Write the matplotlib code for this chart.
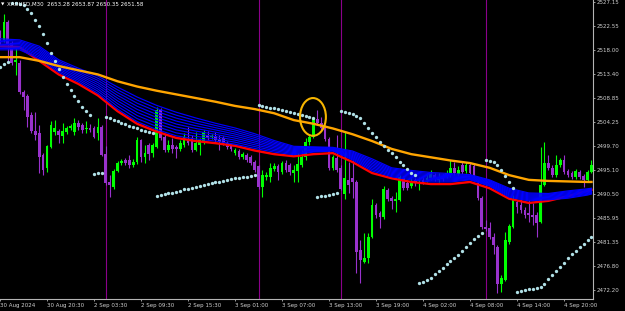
import matplotlib
matplotlib.use('Agg')
import matplotlib.pyplot as plt
from matplotlib.patches import Ellipse
import numpy as np

# XAUUSD M30 candles, one entry per bar (bar 0 = 30 Aug 2024)
opens = [2521.2, 2519.9, 2523.3, 2519.3, 2515.7, 2515.5, 2510.0, 2509.2, 2505.6, 2502.5,
         2502.1, 2497.9, 2495.5, 2499.5, 2502.3, 2502.5, 2501.6, 2502.3, 2503.1, 2502.3,
         2504.0, 2503.7, 2502.9, 2503.1, 2503.1, 2502.1, 2503.3, 2498.1, 2492.8, 2491.8,
         2494.9, 2496.4, 2497.0, 2497.0, 2496.0, 2496.6, 2500.8, 2497.6, 2499.8, 2498.3,
         2499.5, 2506.5, 2501.4, 2498.9, 2499.8, 2499.5, 2499.1, 2499.8, 2500.8, 2501.2,
         2498.9, 2499.8, 2500.4, 2501.8, 2501.3, 2501.6, 2501.0, 2501.2, 2500.2, 2499.7,
         2498.3, 2498.7, 2497.6, 2497.9, 2497.6, 2496.6, 2495.8, 2491.8, 2493.7, 2493.7,
         2495.3, 2495.8, 2494.7, 2496.4, 2496.0, 2494.5, 2494.9, 2496.0, 2497.6, 2500.4,
         2501.4, 2504.8, 2504.0, 2503.1, 2501.0, 2495.5, 2497.4, 2495.5, 2490.5, 2493.2,
         2493.6, 2492.8, 2479.8, 2477.5, 2478.3, 2482.3, 2488.4, 2486.9, 2486.1, 2491.3,
         2489.7, 2489.2, 2489.4, 2493.6, 2492.6, 2492.0, 2493.2, 2493.0, 2493.2, 2493.2,
         2493.6, 2494.1, 2493.2, 2493.9, 2493.9, 2494.1, 2495.5, 2494.3, 2496.0, 2494.9,
         2496.0, 2495.8, 2492.6, 2489.7, 2484.2, 2484.0, 2482.3, 2480.4, 2473.3, 2474.1,
         2481.4, 2484.2, 2489.0, 2488.4, 2487.5, 2486.9, 2486.5, 2486.5, 2485.2, 2492.2,
         2496.4, 2495.5, 2494.1, 2496.0, 2497.0, 2494.9, 2494.5, 2493.7, 2494.7, 2493.9,
         2493.2, 2494.7]
highs = [2521.8, 2524.8, 2523.7, 2519.7, 2518.5, 2516.1, 2510.3, 2509.6, 2506.1, 2506.1,
         2503.7, 2498.3, 2499.8, 2504.4, 2504.6, 2502.9, 2504.0, 2503.5, 2503.9, 2505.0,
         2504.6, 2504.0, 2504.4, 2503.9, 2503.5, 2505.0, 2503.7, 2499.7, 2494.1, 2495.3,
         2496.8, 2497.2, 2497.4, 2497.9, 2497.2, 2501.4, 2501.0, 2499.8, 2500.2, 2500.2,
         2507.1, 2506.9, 2502.0, 2500.8, 2501.2, 2499.8, 2500.8, 2502.1, 2503.3, 2501.8,
         2502.3, 2501.2, 2502.7, 2502.5, 2502.0, 2502.3, 2501.8, 2501.6, 2500.6, 2500.0,
         2499.3, 2499.1, 2498.5, 2498.3, 2497.9, 2497.0, 2496.0, 2495.1, 2494.7, 2496.4,
         2496.4, 2496.2, 2496.8, 2497.0, 2496.4, 2496.0, 2498.3, 2498.9, 2501.2, 2501.8,
         2505.2, 2506.5, 2505.2, 2503.7, 2501.4, 2497.9, 2501.8, 2496.0, 2502.3, 2496.6,
         2497.0, 2493.2, 2481.7, 2483.1, 2483.1, 2489.6, 2488.8, 2487.3, 2492.0, 2491.6,
         2490.1, 2490.9, 2494.1, 2493.9, 2493.0, 2493.6, 2493.6, 2493.7, 2493.9, 2494.5,
         2495.1, 2494.5, 2494.5, 2494.3, 2495.1, 2497.0, 2496.6, 2495.8, 2496.6, 2496.6,
         2496.4, 2496.2, 2493.2, 2490.1, 2485.5, 2485.2, 2483.1, 2480.8, 2475.1, 2483.3,
         2484.8, 2490.3, 2489.4, 2489.7, 2488.0, 2489.4, 2488.8, 2487.1, 2499.5, 2500.4,
         2497.9, 2496.0, 2497.9, 2497.4, 2497.9, 2495.3, 2494.9, 2495.3, 2495.1, 2494.3,
         2495.1, 2497.0]
lows = [2518.9, 2519.5, 2515.5, 2515.1, 2513.2, 2509.6, 2506.5, 2503.3, 2502.1, 2500.8,
        2494.5, 2494.1, 2494.7, 2499.3, 2501.8, 2500.2, 2500.2, 2502.0, 2502.7, 2501.8,
        2502.7, 2502.1, 2502.1, 2502.3, 2501.2, 2500.8, 2497.8, 2492.2, 2489.9, 2491.5,
        2494.7, 2496.0, 2496.0, 2495.5, 2495.7, 2496.2, 2496.6, 2496.4, 2497.0, 2497.6,
        2499.3, 2500.8, 2498.5, 2498.5, 2498.3, 2497.4, 2498.7, 2499.5, 2499.8, 2498.5,
        2498.7, 2497.9, 2500.0, 2500.8, 2501.0, 2500.4, 2498.9, 2499.8, 2499.1, 2498.7,
        2497.9, 2497.2, 2497.2, 2496.6, 2496.0, 2494.7, 2491.5, 2489.9, 2493.2, 2492.8,
        2494.9, 2493.2, 2494.3, 2494.7, 2494.1, 2492.8, 2492.8, 2495.7, 2497.0, 2499.8,
        2501.2, 2503.7, 2502.7, 2500.6, 2495.1, 2495.1, 2494.7, 2491.3, 2489.5, 2490.7,
        2489.7, 2475.4, 2473.5, 2477.3, 2477.3, 2482.1, 2485.9, 2484.0, 2485.7, 2489.2,
        2487.6, 2487.1, 2489.2, 2491.3, 2491.3, 2491.6, 2492.0, 2491.3, 2492.4, 2492.8,
        2493.2, 2493.0, 2492.8, 2493.0, 2493.6, 2493.7, 2494.1, 2493.9, 2494.3, 2494.5,
        2494.1, 2493.7, 2489.4, 2483.8, 2483.4, 2481.9, 2479.1, 2471.6, 2471.8, 2473.9,
        2481.0, 2484.0, 2486.9, 2486.9, 2485.9, 2485.2, 2484.6, 2482.3, 2485.0, 2492.0,
        2495.1, 2493.7, 2493.7, 2495.7, 2494.3, 2493.7, 2493.4, 2493.4, 2493.4, 2491.8,
        2492.9, 2494.5]
closes = [2519.3, 2523.3, 2518.9, 2515.5, 2516.1, 2510.0, 2509.0, 2505.2, 2502.5, 2501.8,
          2497.6, 2495.1, 2499.7, 2503.7, 2503.1, 2501.8, 2502.5, 2503.1, 2503.5, 2504.0,
          2503.3, 2502.7, 2503.1, 2502.7, 2501.4, 2503.3, 2497.9, 2492.6, 2492.2, 2494.9,
          2496.4, 2496.8, 2496.4, 2496.0, 2496.6, 2500.8, 2497.6, 2498.3, 2498.1, 2499.8,
          2506.5, 2501.2, 2498.9, 2499.8, 2499.1, 2499.1, 2500.2, 2501.4, 2500.2, 2498.9,
          2500.2, 2500.8, 2502.3, 2501.2, 2501.6, 2500.8, 2500.4, 2500.2, 2499.5, 2499.1,
          2498.9, 2497.6, 2498.1, 2497.0, 2496.4, 2495.1, 2491.8, 2494.1, 2494.1, 2495.5,
          2495.8, 2494.7, 2496.4, 2495.1, 2494.7, 2495.1, 2496.2, 2497.6, 2500.4, 2501.4,
          2505.0, 2504.0, 2503.1, 2501.0, 2495.5, 2497.6, 2495.1, 2491.5, 2493.6, 2492.2,
          2492.8, 2479.4, 2477.9, 2478.3, 2482.3, 2488.4, 2486.5, 2486.1, 2491.5, 2489.6,
          2489.2, 2489.6, 2493.7, 2491.6, 2491.6, 2492.6, 2492.6, 2493.4, 2492.8, 2493.6,
          2494.3, 2493.6, 2493.6, 2493.4, 2494.5, 2495.5, 2494.5, 2495.1, 2494.7, 2496.0,
          2494.5, 2494.1, 2489.7, 2484.2, 2483.8, 2482.3, 2480.8, 2473.3, 2474.5, 2481.7,
          2484.4, 2489.4, 2488.0, 2487.5, 2486.5, 2486.5, 2486.1, 2485.0, 2492.2, 2496.4,
          2495.5, 2494.1, 2496.0, 2497.0, 2494.7, 2494.1, 2493.7, 2494.9, 2493.7, 2493.2,
          2494.7, 2496.0]

# parabolic SAR, one dot per bar
sar = [2514.7, 2515.3, 2515.7,
       2526.9, 2526.9, 2526.7, 2526.5, 2525.8, 2525.0, 2523.7, 2522.5, 2521.0, 2519.3,
       2517.4, 2515.9, 2514.3, 2512.8, 2511.5, 2510.3, 2509.2, 2508.2, 2507.1, 2506.3, 2505.6,
       2494.3, 2494.5, 2494.5,
       2505.2, 2505.0, 2504.6, 2504.4, 2504.0, 2503.9, 2503.5, 2503.3, 2503.1, 2502.7,
       2502.5, 2502.3, 2502.1,
       2490.1, 2490.3, 2490.5, 2490.7, 2490.7, 2490.9, 2491.1, 2491.5, 2491.5, 2491.6,
       2491.8, 2492.0, 2492.2, 2492.4, 2492.6, 2492.8, 2492.8, 2493.0, 2493.2, 2493.4,
       2493.6, 2493.6, 2493.7, 2493.7, 2493.9, 2494.1,
       2507.5, 2507.3, 2507.1, 2506.9, 2506.9, 2506.7, 2506.5, 2506.3, 2506.1, 2506.0,
       2505.8, 2505.6, 2505.4, 2505.2, 2505.0,
       2489.9, 2490.1, 2490.1, 2490.3, 2490.5, 2490.7,
       2506.3, 2506.1, 2506.0, 2505.8, 2505.4, 2505.0, 2504.0, 2503.1, 2502.1, 2501.4,
       2500.4, 2499.7, 2498.9, 2498.3, 2497.6, 2496.6, 2496.0, 2495.3, 2494.5, 2494.1,
       2473.5, 2473.7, 2474.1, 2474.5, 2475.2, 2475.8, 2476.4, 2477.2, 2477.7, 2478.3,
       2478.9, 2479.6, 2480.4, 2481.2, 2481.9, 2482.5, 2483.1,
       2497.0, 2496.8, 2496.6, 2496.0, 2495.1, 2493.9, 2492.8, 2491.6,
       2471.8, 2472.0, 2472.2, 2472.4, 2472.4, 2472.6, 2472.8, 2473.3, 2474.3, 2475.0,
       2475.8, 2476.6, 2477.3, 2478.3, 2479.1, 2479.6, 2480.4, 2481.0, 2481.7, 2482.3]

# moving averages read every 5 bars
ma_bars = list(range(0, 151, 5)) + [151]
ma_orange = [2516.6, 2516.6, 2515.9, 2514.9, 2514.1, 2513.3, 2512.0, 2511.0, 2510.2, 2509.5,
             2508.8, 2508.1, 2507.3, 2506.7, 2505.9, 2504.6, 2503.9, 2503.0, 2501.9, 2500.6,
             2499.1, 2498.1, 2497.5, 2496.9, 2496.4, 2495.5, 2494.1, 2493.2, 2493.0, 2492.9,
             2492.8, 2492.8]
ribbon_top = [2520.1, 2519.9, 2518.7, 2516.1, 2514.5, 2513.0, 2510.9, 2509.0, 2507.4, 2506.1,
              2505.0, 2504.0, 2503.1, 2502.0, 2500.7, 2499.6, 2499.5, 2499.4, 2498.7, 2497.2,
              2495.5, 2495.0, 2494.6, 2494.4, 2494.2, 2493.2, 2491.6, 2490.7, 2490.6, 2491.1,
              2491.5, 2491.6]
ribbon_bottom = [2518.0, 2518.0, 2516.3, 2513.7, 2511.9, 2509.7, 2506.7, 2504.3, 2502.8, 2501.6,
                 2501.0, 2500.6, 2500.0, 2499.2, 2498.5, 2498.0, 2498.5, 2498.7, 2497.0, 2494.9,
                 2493.8, 2493.2, 2492.8, 2492.8, 2493.2, 2492.0, 2489.9, 2489.2, 2489.4, 2489.7,
                 2490.3, 2490.5]
ma_red = [2518.7, 2518.5, 2515.9, 2513.3, 2511.5, 2509.3, 2506.3, 2503.9, 2502.4, 2501.2,
          2500.6, 2500.2, 2499.7, 2498.8, 2498.1, 2497.7, 2498.1, 2498.3, 2496.6, 2494.5,
          2493.5, 2492.8, 2492.4, 2492.4, 2492.8, 2491.6, 2489.6, 2488.8, 2489.2, 2490.1,
          2491.1, 2491.3]

tick_bars = list(range(0, 145, 12))
tick_labels = ['30 Aug 2024', '30 Aug 20:30', '2 Sep 03:30', '2 Sep 09:30', '2 Sep 15:30',
               '3 Sep 01:00', '3 Sep 07:00', '3 Sep 13:00', '3 Sep 19:00', '4 Sep 02:00',
               '4 Sep 08:00', '4 Sep 14:00', '4 Sep 20:00']
price_ticks = [2527.15, 2522.55, 2518.00, 2513.40, 2508.85, 2504.25, 2499.70, 2495.10,
               2490.50, 2485.95, 2481.35, 2476.80, 2472.20]
vline_bars = [27, 66, 87, 124]
header = 'XAUUSD,M30  2653.28 2653.87 2650.35 2651.58'

W, H = 625, 311
fig = plt.figure(figsize=(W / 100, H / 100), dpi=100, facecolor='black')
ax = fig.add_axes([0, 12 / H, 593 / W, 299 / H], facecolor='black')

x = np.arange(len(opens))
o = np.array(opens)
c = np.array(closes)
cols = np.where(c >= o, '#00ff00', '#9932cc')

for b in vline_bars:
    ax.axvline(b, color='#8b008b', lw=0.8, zorder=1)

ax.vlines(x, lows, highs, colors=cols, lw=0.8, zorder=2)
ax.bar(x, np.maximum(np.abs(c - o), 0.2), bottom=np.minimum(o, c), width=0.7,
       color=cols, linewidth=0, zorder=2)

ax.plot(ma_bars, ma_red, color='#ff0000', lw=1.7, zorder=3)
top = np.array(ribbon_top)
bot = np.array(ribbon_bottom)
for f in np.linspace(0, 1, 9):
    ax.plot(ma_bars, top + (bot - top) * f, color='#0000ff', lw=0.85, zorder=4)
ax.plot(ma_bars, ma_orange, color='#ffa500', lw=1.7, zorder=5)

ax.plot(x, sar, 'o', ms=2.4, color='#b0e0e6', mec='none', zorder=6)

ax.add_patch(Ellipse((79.9, 2505.2), 6.6, 7.2, fill=False, edgecolor='#f7b500', lw=1.5, zorder=7))

ax.set_xlim(0, 593 / 3.917)
ax.set_ylim(2470.48, 2527.5)

for s in ['top', 'left']:
    ax.spines[s].set_visible(False)
for s in ['right', 'bottom']:
    ax.spines[s].set_color('#b4b4b4')
    ax.spines[s].set_linewidth(0.8)

ax.yaxis.tick_right()
ax.set_yticks(price_ticks)
ax.set_yticklabels(['%.2f' % p for p in price_ticks])
ax.set_xticks(tick_bars)
ax.set_xticklabels(tick_labels, ha='left')
ax.tick_params(axis='both', direction='out', length=1.5, width=0.6, color='#b4b4b4',
               labelcolor='#d0d0d0', labelsize=4.0, pad=1.2)

fig.text(1 / W, 1 - 4 / H, '\u25bc', color='white', fontsize=3.2, va='center', ha='left')
fig.text(7 / W, 1 - 4.5 / H, header, color='white', fontsize=4.0, va='center', ha='left')

fig.savefig('out.png', dpi=100, facecolor='black')
